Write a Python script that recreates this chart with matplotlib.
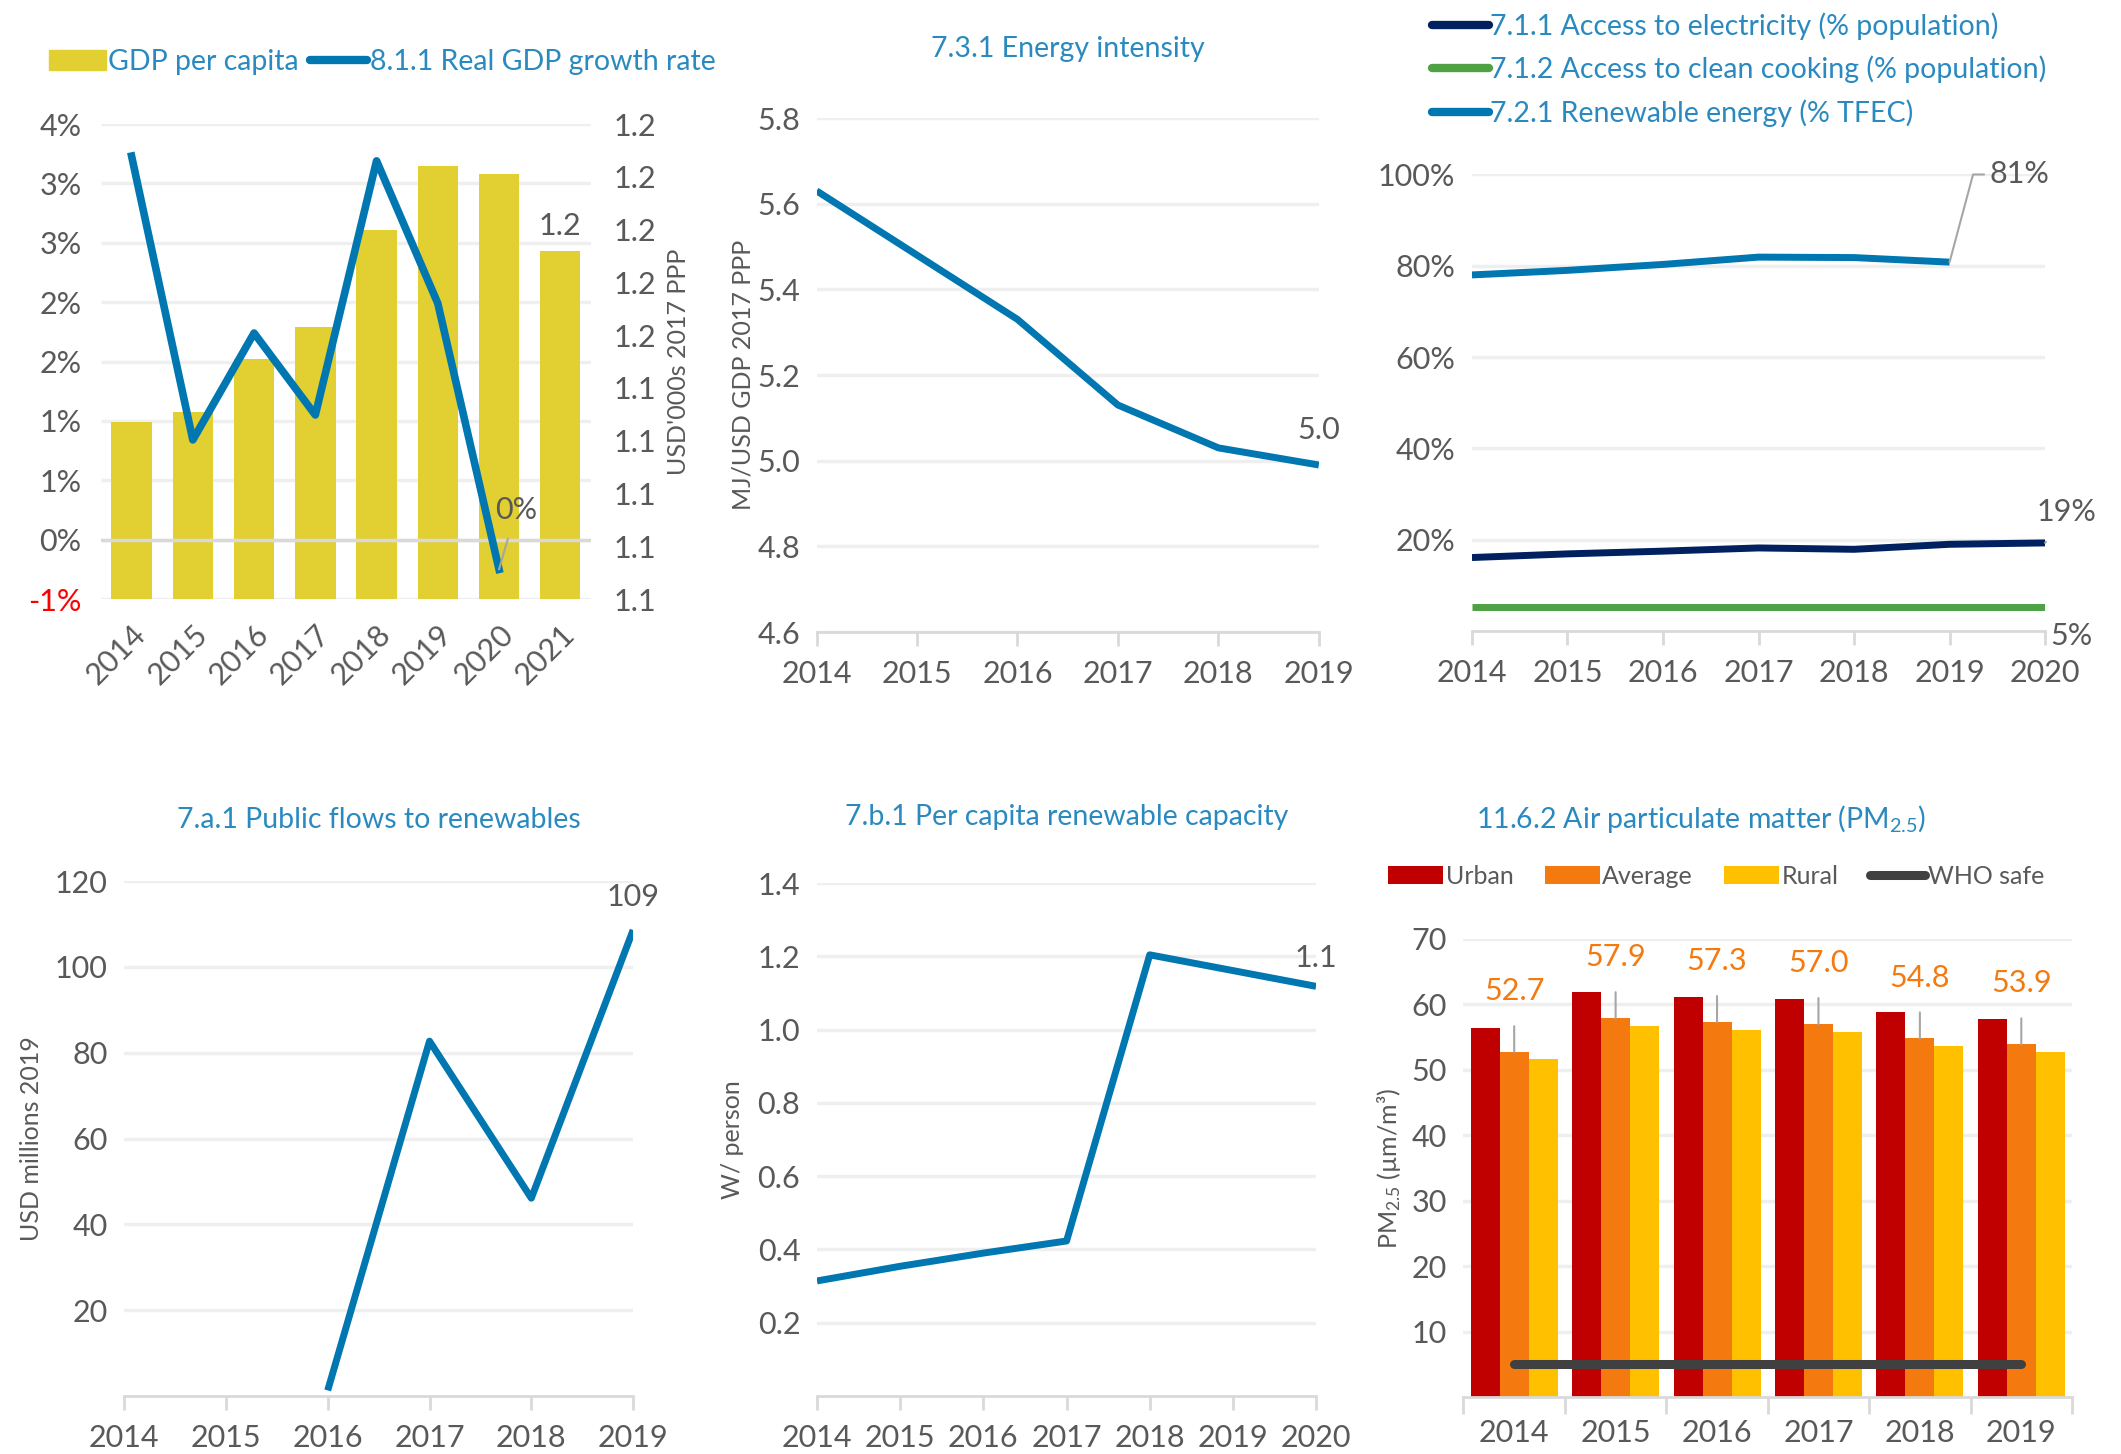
import numpy as np
import matplotlib.pyplot as plt
from matplotlib.transforms import blended_transform_factory

plt.rcParams['font.family'] = ['Lato', 'DejaVu Sans']
plt.rcParams['mathtext.default'] = 'regular'

# ---- data ----
years_gdp = ['2014', '2015', '2016', '2017', '2018', '2019', '2020', '2021']
gdp_pc = [1.127, 1.131, 1.151, 1.163, 1.200, 1.224, 1.221, 1.192]
gdp_growth = [3.23, 0.84, 1.74, 1.05, 3.19, 1.99, -0.25, np.nan]

years_ei = ['2014', '2015', '2016', '2017', '2018', '2019']
energy_int = [5.63, 5.48, 5.33, 5.13, 5.03, 4.99]

years_acc = ['2014', '2015', '2016', '2017', '2018', '2019', '2020']
elec = [16.1, 16.9, 17.5, 18.2, 17.9, 19.0, 19.3]
cooking = [5.2, 5.2, 5.2, 5.2, 5.2, 5.2, 5.2]
renew = [78.0, 79.0, 80.3, 81.9, 81.8, 80.8, np.nan]

years_flow = ['2014', '2015', '2016', '2017', '2018', '2019']
flows = [np.nan, np.nan, 1.3, 82.7, 46.1, 108.6]

years_cap = ['2014', '2015', '2016', '2017', '2018', '2019', '2020']
capacity = [0.314, 0.354, 0.39, 0.423, 1.204, 1.161, 1.118]

years_pm = ['2014', '2015', '2016', '2017', '2018', '2019']
pm_urban = [56.4, 61.9, 61.1, 60.9, 58.8, 57.8]
pm_avg = [52.7, 57.9, 57.3, 57.0, 54.8, 53.9]
pm_rural = [51.6, 56.7, 56.1, 55.8, 53.6, 52.7]
who_safe = [5, 5, 5, 5, 5, 5]

# ---- style ----
BLUE = '#0077B0'
NAVY = '#002060'
GREEN = '#4EA244'
YELLOW = '#E2CF32'
TXT = '#595959'
TITLE = '#2A8AC0'
GRID = '#EFEFEF'
AXIS = '#D9D9D9'
FS = 22      # tick labels
FT = 20.5    # titles / legends
FL = 18      # axis labels
LW = 5

fig = plt.figure(figsize=(21.21, 14.54), dpi=100)


def base(ax, ylim, yticks, labels=None, grid=True):
    ax.set_ylim(*ylim)
    ax.set_yticks(yticks)
    if labels is not None:
        ax.set_yticklabels(labels)
    if grid:
        ax.grid(axis='y', color=GRID, lw=2.5)
    ax.set_axisbelow(True)
    for s in ['top', 'right', 'left']:
        ax.spines[s].set_visible(False)
    ax.spines['bottom'].set_color(AXIS)
    ax.spines['bottom'].set_linewidth(2)
    ax.tick_params(axis='y', length=0, labelsize=FS, labelcolor=TXT, pad=12)
    ax.tick_params(axis='x', length=10, width=2, color=AXIS, labelsize=FS,
                   labelcolor=TXT, pad=10)


def line_panel(ax, years, vals, color=BLUE):
    x = np.arange(len(years))
    ax.plot(x, vals, color=color, lw=LW, solid_capstyle='butt')
    ax.set_xlim(0, len(years) - 1)
    ax.set_xticks(x)
    ax.set_xticklabels(years)
    return x


# ---- panel 1: GDP ----
ax1 = fig.add_axes([0.0476, 0.588, 0.231, 0.3267])
xg = np.arange(len(years_gdp))
ax1.bar(xg, gdp_pc, width=0.66, color=YELLOW, zorder=2)
ax1.set_xlim(-0.5, len(years_gdp) - 0.5)
axl = ax1.twinx()

rticks = np.arange(1.06, 1.2401, 0.02)
base(ax1, (1.06, 1.24), rticks, grid=False)
ax1.yaxis.tick_right()
ax1.set_yticklabels([f'{v:.1f}' for v in rticks])
ax1.tick_params(axis='y', pad=16)
ax1.yaxis.set_label_position('right')
ax1.set_ylabel("USD'000s 2017 PPP", fontsize=FL, color=TXT, labelpad=8)
ax1.spines['bottom'].set_visible(False)
ax1.set_xticks(xg)
ax1.set_xticklabels(years_gdp, rotation=45, ha='right', rotation_mode='anchor')
ax1.tick_params(axis='x', length=0, pad=15)
ax1.text(xg[-1], gdp_pc[-1] + 0.004, f'{gdp_pc[-1]:.1f}', ha='center', va='bottom',
         fontsize=FS, color=TXT)

axl.yaxis.tick_left()
lticks = np.arange(-0.5, 3.51, 0.5)
axl.set_ylim(-0.5, 3.5)
axl.set_yticks(lticks)
axl.set_yticklabels([f'{int(np.sign(v) * np.floor(abs(v) + 0.5))}%' for v in lticks])
axl.tick_params(axis='y', length=0, labelsize=FS, labelcolor=TXT, pad=14)
axl.get_yticklabels()[0].set_color('#FF0000')
for s in axl.spines.values():
    s.set_visible(False)
# gridlines follow the left (growth) axis but sit behind the bars
ax1.hlines(lticks, 0, 1, transform=blended_transform_factory(ax1.transAxes, axl.transData),
           color=GRID, lw=2.5, zorder=0)
axl.axhline(0, color=AXIS, lw=2.5, zorder=1)
axl.plot(xg, gdp_growth, color=BLUE, lw=LW + 0.5)
axl.annotate('0%', xy=(xg[6], gdp_growth[6]), xytext=(xg[6] + 0.28, 0.25),
             fontsize=FS, color=TXT, ha='center', va='center',
             arrowprops=dict(arrowstyle='-', color='#A6A6A6', lw=1.5, shrinkA=9, shrinkB=0))
axl.legend(handles=[plt.Rectangle((0, 0), 1, 1, color=YELLOW),
                    plt.Line2D([], [], color=BLUE, lw=LW + 1, solid_capstyle='round')],
           labels=['GDP per capita', '8.1.1 Real GDP growth rate'],
           loc='lower left', bbox_to_anchor=(-0.13, 1.08), ncol=2, frameon=False,
           fontsize=FT, labelcolor=TITLE, handlelength=2.0, handleheight=0.7,
           handletextpad=0.1, columnspacing=0.4, borderaxespad=0)

# ---- panel 2: energy intensity ----
ax2 = fig.add_axes([0.385, 0.5653, 0.2368, 0.3535])
x2 = line_panel(ax2, years_ei, energy_int)
base(ax2, (4.6, 5.8), np.arange(4.6, 5.81, 0.2), [f'{v:.1f}' for v in np.arange(4.6, 5.81, 0.2)])
ax2.set_ylabel('MJ/USD GDP 2017 PPP', fontsize=FL, color=TXT, labelpad=2)
ax2.text(x2[-1], energy_int[-1] + 0.05, f'{energy_int[-1]:.1f}', ha='center', va='bottom',
         fontsize=FS, color=TXT)
ax2.set_title('7.3.1 Energy intensity', fontsize=FT, color=TITLE, pad=44)

# ---- panel 3: access ----
ax3 = fig.add_axes([0.694, 0.566, 0.2702, 0.314])
x3 = np.arange(len(years_acc))
l1, = ax3.plot(x3, elec, color=NAVY, lw=LW, solid_capstyle='butt')
l2, = ax3.plot(x3, cooking, color=GREEN, lw=LW, solid_capstyle='butt')
l3, = ax3.plot(x3, renew, color=BLUE, lw=LW, solid_capstyle='butt')
ax3.set_xlim(0, len(years_acc) - 1)
ax3.set_xticks(x3)
ax3.set_xticklabels(years_acc)
base(ax3, (0, 100), [20, 40, 60, 80, 100], ['20%', '40%', '60%', '80%', '100%'])
ax3.annotate('81%', xy=(x3[5], renew[5]), xytext=(x3[5] + 0.42, 100),
             fontsize=FS, color=TXT, ha='left', va='center',
             arrowprops=dict(arrowstyle='-', color='#A6A6A6', lw=1.5, shrinkA=2, shrinkB=0,
                             connectionstyle='angle,angleA=0,angleB=75,rad=0'))
ax3.annotate('19%', xy=(x3[6], elec[6]), xytext=(x3[6] + 0.22, 26),
             fontsize=FS, color=TXT, ha='center', va='center',
             arrowprops=dict(arrowstyle='-', color='#A6A6A6', lw=1.5, shrinkA=11, shrinkB=0))
ax3.text(x3[6] + 0.06, -1, f'{cooking[6]:.0f}%', fontsize=FS, color=TXT, ha='left', va='center')
ax3.legend([l1, l2, l3], ['7.1.1 Access to electricity (% population)',
                          '7.1.2 Access to clean cooking (% population)',
                          '7.2.1 Renewable energy (% TFEC)'],
           loc='lower left', bbox_to_anchor=(-0.09, 1.08), frameon=False, fontsize=FT,
           labelcolor=TITLE, handlelength=2.0, handletextpad=0.05, labelspacing=0.55,
           borderaxespad=0)
for h in ax3.get_legend().legend_handles:
    h.set_solid_capstyle('round')
    h.set_linewidth(LW + 1)

# ---- panel 4: public flows ----
ax4 = fig.add_axes([0.0585, 0.0399, 0.24, 0.3541])
x4 = line_panel(ax4, years_flow, flows)
base(ax4, (0, 120), [20, 40, 60, 80, 100, 120])
ax4.set_ylabel('USD millions 2019', fontsize=FL, color=TXT, labelpad=8)
ax4.text(x4[-1], 113, f'{flows[-1]:.0f}', ha='center', va='bottom', fontsize=FS, color=TXT)
ax4.set_title('7.a.1 Public flows to renewables', fontsize=FT, color=TITLE, pad=38)

# ---- panel 5: per capita capacity ----
ax5 = fig.add_axes([0.3852, 0.0399, 0.2353, 0.3528])
x5 = line_panel(ax5, years_cap, capacity)
base(ax5, (0, 1.4), np.arange(0.2, 1.41, 0.2), [f'{v:.1f}' for v in np.arange(0.2, 1.41, 0.2)])
ax5.set_ylabel('W/ person', fontsize=FL, color=TXT, labelpad=10)
ax5.text(x5[-1], capacity[-1] + 0.04, f'{capacity[-1]:.1f}', ha='center', va='bottom',
         fontsize=FS, color=TXT)
ax5.set_title('7.b.1 Per capita renewable capacity', fontsize=FT, color=TITLE, pad=42)

# ---- panel 6: PM2.5 ----
ax6 = fig.add_axes([0.690, 0.0392, 0.2869, 0.315])
x6 = np.arange(len(years_pm))
w = 1 / 3.5
b1 = ax6.bar(x6 - w, pm_urban, width=w, color='#C00000')
b2 = ax6.bar(x6, pm_avg, width=w, color='#F47A10')
b3 = ax6.bar(x6 + w, pm_rural, width=w, color='#FFC000')
who, = ax6.plot(x6, who_safe, color='#404040', lw=LW + 1.5, solid_capstyle='round')
ax6.set_xlim(-0.5, len(years_pm) - 0.5)
ax6.set_xticks(x6)
ax6.set_xticklabels(years_pm)
base(ax6, (0, 70), np.arange(10, 71, 10))
ax6.set_xticks(np.arange(-0.5, len(years_pm)), minor=True)
ax6.tick_params(axis='x', which='major', length=0, pad=16)
ax6.tick_params(axis='x', which='minor', length=12, width=2, color=AXIS)
for xi, v in zip(x6, pm_avg):
    ax6.annotate(f'{v:.1f}', xy=(xi, v), xytext=(xi, v + 9.3), fontsize=FS, color='#F47A10',
                 ha='center', va='center',
                 arrowprops=dict(arrowstyle='-', color='#A6A6A6', lw=1.5, shrinkA=13, shrinkB=0))
ax6.set_ylabel('PM$_{2.5}$ (µm/m³)', fontsize=FL, color=TXT, labelpad=6)
ax6.set_title('11.6.2 Air particulate matter (PM$_{2.5}$)', fontsize=FT, color=TITLE,
              pad=80, x=0.39)
ax6.legend([b1, b2, b3, who], ['Urban', 'Average', 'Rural', 'WHO safe'],
           loc='lower left', bbox_to_anchor=(-0.14, 1.09), ncol=4, frameon=False,
           fontsize=18, labelcolor=TXT, handlelength=2.2, handleheight=0.7,
           handletextpad=0.1, columnspacing=1.25, borderaxespad=0)

fig.savefig('out.png', dpi=100)
